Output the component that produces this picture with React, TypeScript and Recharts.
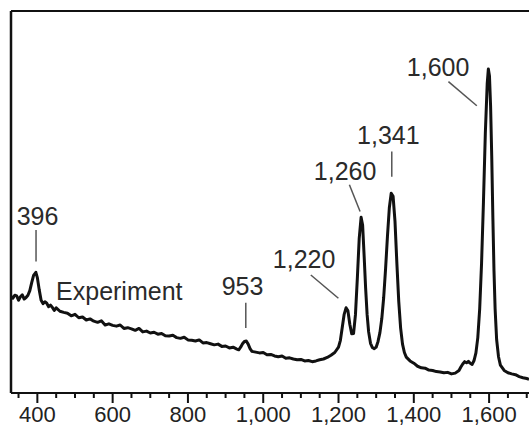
import { LineChart, Line, XAxis, YAxis, ReferenceLine, ReferenceDot } from "recharts";

// Raman shift (cm-1) and measured intensity (arb. units, 0-100)
const shifts = [
  330, 335, 340, 345, 350, 355, 360, 365, 370, 375, 380, 385, 390, 396, 400, 405, 410, 415, 420, 425,
  430, 435, 440, 445, 450, 460, 470, 480, 490, 500, 510, 520, 530, 540, 550, 560, 570, 580, 590, 600,
  610, 620, 630, 640, 650, 660, 670, 680, 690, 700, 710, 720, 730, 740, 750, 760, 770, 780, 790, 800,
  810, 820, 830, 840, 850, 860, 870, 880, 890, 900, 910, 920, 930, 935, 940, 945, 950, 955, 960, 965,
  970, 980, 990, 1000, 1010, 1020, 1030, 1040, 1050, 1060, 1070, 1080, 1090, 1100, 1110, 1120, 1130, 1140, 1150, 1160,
  1170, 1180, 1190, 1200, 1205, 1210, 1215, 1220, 1225, 1230, 1235, 1240, 1245, 1250, 1255, 1260, 1264, 1268, 1272, 1276,
  1280, 1285, 1290, 1295, 1300, 1305, 1310, 1315, 1320, 1325, 1330, 1335, 1340, 1345, 1350, 1355, 1360, 1365, 1370, 1375,
  1380, 1390, 1400, 1410, 1420, 1430, 1440, 1450, 1460, 1470, 1480, 1490, 1500, 1510, 1520, 1525, 1530, 1535, 1540, 1545,
  1550, 1555, 1560, 1565, 1570, 1575, 1580, 1585, 1590, 1595, 1598, 1601, 1604, 1607, 1610, 1613, 1616, 1620, 1625, 1630,
  1640, 1650, 1660, 1670, 1680, 1690, 1700, 1706,
];
const intensity = [
  25.3, 24.8, 25.6, 25.4, 24.3, 25.2, 25.7, 24.6, 25.0, 25.6, 26.8, 28.9, 30.8, 31.6, 30.2, 27.0, 24.3, 23.4, 23.9, 23.5,
  22.6, 23.0, 22.4, 21.6, 22.3, 21.4, 21.1, 20.9, 20.2, 20.6, 19.7, 19.9, 19.1, 19.4, 18.8, 18.5, 18.9, 17.8, 18.1, 17.7,
  17.5, 17.8, 16.9, 17.1, 16.8, 16.4, 16.9, 16.0, 16.2, 15.7, 15.9, 15.4, 15.6, 15.0, 14.9, 15.1, 14.5, 14.3, 14.6, 13.9,
  13.8, 13.6, 13.9, 13.1, 13.2, 12.9, 12.6, 12.8, 12.2, 12.3, 11.8, 12.0, 11.5, 11.3, 12.0, 12.9, 13.5, 13.6, 12.8, 11.6,
  10.9, 10.7, 10.5, 10.6, 10.0, 10.1, 9.7, 9.5, 9.7, 9.1, 9.2, 8.9, 8.7, 8.8, 8.4, 8.5, 8.2, 8.4, 8.7, 8.9,
  9.3, 9.9, 10.6, 12.0, 13.8, 17.2, 20.6, 22.3, 21.5, 18.0, 15.5, 15.6, 20.5, 30.0, 40.5, 46.0, 44.0, 36.0, 27.5, 20.5,
  16.0, 13.0, 11.9, 11.6, 12.0, 13.5, 15.8, 19.5, 25.0, 32.5, 41.0, 48.5, 52.3, 51.5, 45.0, 34.0, 24.0, 17.0, 12.8, 10.6,
  9.4, 8.4, 7.8, 7.0, 6.6, 6.5, 6.0, 5.9, 5.6, 5.5, 5.3, 5.4, 5.0, 5.2, 5.9, 6.8, 7.6, 8.2, 7.9, 8.3,
  7.8, 7.5, 8.5, 10.5, 14.5, 22.0, 34.0, 50.0, 68.0, 81.0, 84.8, 83.0, 75.0, 62.0, 46.0, 32.0, 22.0, 14.0, 9.5, 7.3,
  5.9, 5.3, 5.0, 4.8, 4.3, 4.0, 3.8, 3.6,
];

// axis ticks: every 50, labelled every 200
const minorTicks = [
  350, 400, 450, 500, 550, 600, 650, 700, 750, 800, 850, 900, 950, 1000,
  1050, 1100, 1150, 1200, 1250, 1300, 1350, 1400, 1450, 1500, 1550, 1600, 1650, 1700,
];
const majorTicks = [400, 600, 800, 1000, 1200, 1400, 1600];

// peak labels
const peakLabels = ["396", "953", "1,220", "1,260", "1,341", "1,600"];
const seriesLabel = "Experiment";

// where each peak label sits, and its leader line (data units)
const labelSpots = [
  { x: 400.5, y: 44.0, from: { x: 396.5, y: 42.7 }, to: { x: 396.5, y: 34.4 } },
  { x: 945, y: 25.7, from: { x: 953.7, y: 23.6 }, to: { x: 953.7, y: 17.0 } },
  { x: 1108.7, y: 32.6, from: { x: 1126.4, y: 30.9 }, to: { x: 1199.7, y: 24.8 } },
  { x: 1217.5, y: 55.8, from: { x: 1228.9, y: 54.5 }, to: { x: 1257.3, y: 47.5 } },
  { x: 1332.5, y: 65.1, from: { x: 1341.5, y: 63.2 }, to: { x: 1341.5, y: 56.6 } },
  { x: 1464.6, y: 83.0, from: { x: 1492, y: 81.5 }, to: { x: 1567.4, y: 75.2 } },
];

const data = shifts.map((s, i) => ({ shift: s, value: intensity[i] }));

const FONT = "'Liberation Sans', Arial, Helvetica, sans-serif";

const AxisTick = (props: any) => {
  const { x, y, payload } = props;
  const major = majorTicks.includes(payload.value);
  return (
    <g>
      <line x1={x} x2={x} y1={y} y2={y + (major ? 10 : 5)} stroke="#111" strokeWidth={2} />
      {major && (
        <text x={x} y={y + 29} textAnchor="middle" fontSize={22} fontFamily={FONT} fill="#222">
          {payload.value.toLocaleString("en-US")}
        </text>
      )}
    </g>
  );
};

const textShape = (label: string, anchor: "middle" | "start") => (p: any) => (
  <text x={p.cx} y={p.cy} textAnchor={anchor} fontSize={25} fontFamily={FONT} fill="#2a2a2a">
    {label}
  </text>
);

export default function App() {
  return (
    <div style={{ position: "absolute", left: 0, top: 0, width: 529, height: 428, overflow: "hidden", background: "#fff" }}>
      <LineChart width={529} height={428} data={data} margin={{ top: 11, right: 0, left: 11, bottom: 0 }}>
        <XAxis
          dataKey="shift"
          type="number"
          domain={[330, 1706]}
          ticks={minorTicks}
          interval={0}
          height={35}
          tickSize={0}
          tickMargin={0}
          tickLine={false}
          tick={<AxisTick />}
          axisLine={{ stroke: "#111", strokeWidth: 2 }}
          allowDataOverflow
        />
        <YAxis type="number" domain={[0, 100]} hide allowDataOverflow />
        {/* frame: left and top edges */}
        <ReferenceLine x={330} stroke="#111" strokeWidth={2.5} />
        <ReferenceLine y={100} stroke="#111" strokeWidth={2} />
        {labelSpots.map((s, i) => (
          <ReferenceLine
            key={`lead-${i}`}
            segment={[s.from, s.to]}
            stroke="#555"
            strokeWidth={1.5}
          />
        ))}
        {labelSpots.map((s, i) => (
          <ReferenceDot key={`lab-${i}`} x={s.x} y={s.y} r={0} shape={textShape(peakLabels[i], "middle")} />
        ))}
        <ReferenceDot x={449.7} y={24.3} r={0} shape={textShape(seriesLabel, "start")} />
        <Line
          type="linear"
          dataKey="value"
          stroke="#111"
          strokeWidth={3}
          dot={false}
          isAnimationActive={false}
          strokeLinejoin="round"
        />
      </LineChart>
    </div>
  );
}
